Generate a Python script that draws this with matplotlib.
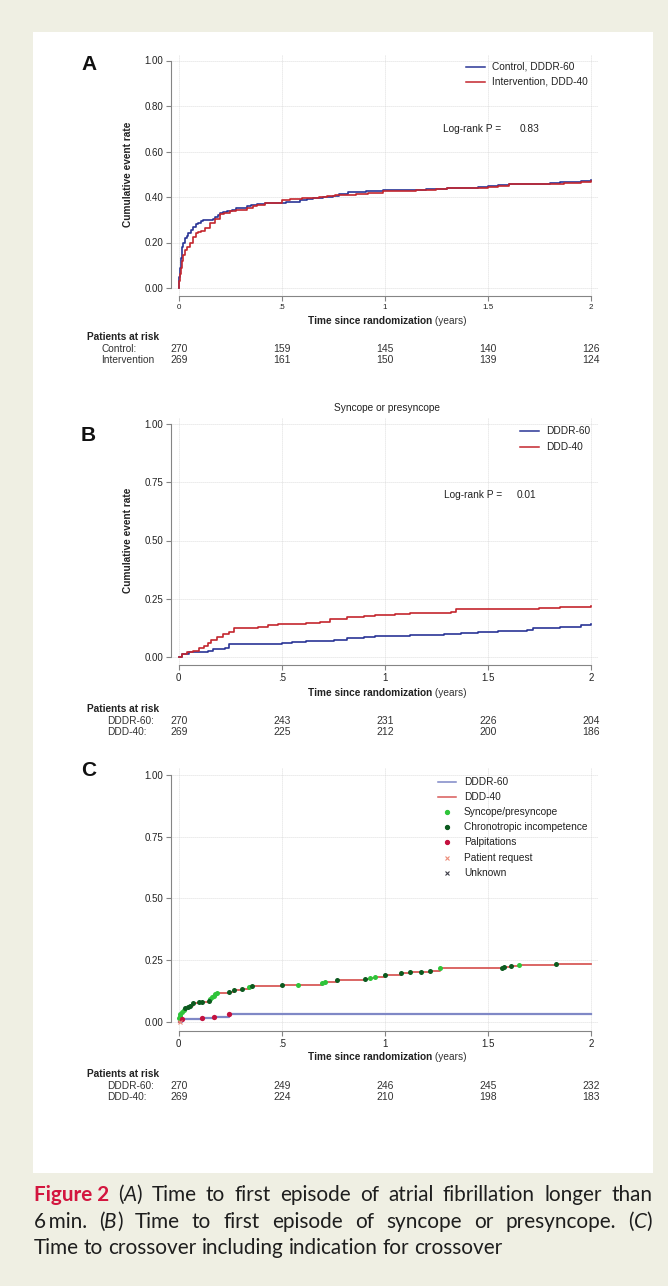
import numpy as np
import matplotlib
matplotlib.use("Agg")
import matplotlib.pyplot as plt
from matplotlib.lines import Line2D
from matplotlib.patches import Rectangle
from matplotlib.transforms import blended_transform_factory

plt.rcParams['font.family'] = ['Liberation Sans', 'DejaVu Sans']

W, H, DPI = 668, 1286, 100

# ---------------- data ----------------
x_ticks = [0, 0.5, 1, 1.5, 2]
x_ticklabels = ["0", ".5", "1", "1.5", "2"]

# A: time to first AF episode > 6 min
a_yticks = [0, 0.2, 0.4, 0.6, 0.8, 1.0]
a_yticklabels = ["0.00", "0.20", "0.40", "0.60", "0.80", "1.00"]
a_ctrl_t = [0, 0.003, 0.006, 0.01, 0.015, 0.022, 0.031, 0.04, 0.047, 0.058, 0.071, 0.083, 0.095,
            0.11, 0.12, 0.14, 0.152, 0.165, 0.176, 0.19, 0.2, 0.215, 0.233, 0.26, 0.28, 0.3, 0.33,
            0.35, 0.38, 0.42, 0.46, 0.52, 0.56, 0.59, 0.62, 0.65, 0.7, 0.75, 0.78, 0.82, 0.87, 0.91,
            0.95, 0.99, 1.05, 1.1, 1.2, 1.3, 1.45, 1.5, 1.55, 1.6, 1.7, 1.8, 1.85, 1.95, 2.0]
a_ctrl_y = [0, 0.05, 0.09, 0.13, 0.18, 0.2, 0.22, 0.23, 0.24, 0.255, 0.27, 0.28, 0.285,
            0.295, 0.297, 0.3, 0.3, 0.305, 0.31, 0.32, 0.33, 0.335, 0.34, 0.345, 0.35, 0.35, 0.36,
            0.365, 0.37, 0.372, 0.375, 0.378, 0.38, 0.385, 0.39, 0.395, 0.4, 0.405, 0.415, 0.42, 0.422, 0.425,
            0.427, 0.43, 0.43, 0.432, 0.435, 0.44, 0.442, 0.447, 0.452, 0.455, 0.457, 0.46, 0.468, 0.47, 0.473]
a_int_t = [0, 0.003, 0.006, 0.01, 0.015, 0.022, 0.031, 0.04, 0.055, 0.071, 0.085, 0.095, 0.11,
           0.13, 0.15, 0.175, 0.2, 0.22, 0.25, 0.28, 0.31, 0.33, 0.36, 0.38, 0.42, 0.46, 0.5, 0.54,
           0.6, 0.68, 0.72, 0.76, 0.8, 0.86, 0.92, 0.99, 1.05, 1.15, 1.25, 1.3, 1.45, 1.5, 1.55, 1.6,
           1.8, 1.87, 1.95, 2.0]
a_int_y = [0, 0.03, 0.06, 0.09, 0.12, 0.145, 0.165, 0.18, 0.2, 0.225, 0.24, 0.245, 0.25,
           0.265, 0.285, 0.305, 0.325, 0.33, 0.34, 0.345, 0.345, 0.35, 0.36, 0.365, 0.372, 0.375, 0.385, 0.39,
           0.395, 0.4, 0.405, 0.408, 0.41, 0.413, 0.418, 0.425, 0.428, 0.43, 0.435, 0.438, 0.44, 0.445, 0.45, 0.455,
           0.458, 0.463, 0.468, 0.472]
a_legend = ["Control, DDDR-60", "Intervention, DDD-40"]
a_rows = ["Control:", "Intervention"]
a_risk_ctrl = [270, 159, 145, 140, 126]
a_risk_int = [269, 161, 150, 139, 124]
a_p = "0.83"

# B: syncope or presyncope
bc_yticks = [0, 0.25, 0.5, 0.75, 1.0]
bc_yticklabels = ["0.00", "0.25", "0.50", "0.75", "1.00"]
b_title = "Syncope or presyncope"
b_dddr_t = [0, 0.017, 0.05, 0.117, 0.142, 0.167, 0.225, 0.242, 0.5, 0.551, 0.618, 0.751, 0.818,
            0.9, 0.952, 1.05, 1.12, 1.285, 1.37, 1.45, 1.55, 1.69, 1.72, 1.85, 1.95, 2.0]
b_dddr_y = [0, 0.011, 0.02, 0.022, 0.026, 0.034, 0.039, 0.053, 0.057, 0.062, 0.069, 0.072, 0.079,
            0.083, 0.089, 0.09, 0.093, 0.096, 0.1, 0.105, 0.112, 0.115, 0.122, 0.129, 0.136, 0.14]
b_ddd_t = [0, 0.017, 0.042, 0.067, 0.1, 0.125, 0.142, 0.159, 0.184, 0.217, 0.242, 0.267, 0.317,
           0.384, 0.434, 0.484, 0.618, 0.684, 0.735, 0.818, 0.9, 0.952, 1.05, 1.12, 1.32, 1.344,
           1.45, 1.75, 1.85, 2.0]
b_ddd_y = [0, 0.011, 0.02, 0.026, 0.036, 0.047, 0.057, 0.07, 0.083, 0.097, 0.108, 0.122, 0.125,
           0.129, 0.136, 0.14, 0.143, 0.15, 0.163, 0.169, 0.175, 0.179, 0.182, 0.19, 0.194, 0.204,
           0.207, 0.209, 0.212, 0.218]
bc_legend = ["DDDR-60", "DDD-40"]
bc_rows = ["DDDR-60:", "DDD-40:"]
b_risk_dddr = [270, 243, 231, 226, 204]
b_risk_ddd = [269, 225, 212, 200, 186]
b_p = "0.01"

# C: time to crossover with indication
c_dddr_t = [0, 0.016, 0.113, 0.173, 0.245, 2.0]
c_dddr_y = [0, 0.011, 0.016, 0.02, 0.03, 0.03]
c_ddd_t = [0, 0.002, 0.004, 0.008, 0.016, 0.024, 0.032, 0.045, 0.056, 0.069, 0.097, 0.113, 0.145,
           0.153, 0.161, 0.169, 0.177, 0.185, 0.242, 0.266, 0.306, 0.339, 0.355, 0.5, 0.58, 0.694,
           0.71, 0.766, 0.903, 0.927, 0.952, 1.0, 1.077, 1.12, 1.177, 1.217, 1.266, 1.57, 1.58,
           1.61, 1.65, 1.83, 2.0]
c_ddd_y = [0, 0.014, 0.023, 0.031, 0.04, 0.047, 0.054, 0.061, 0.065, 0.074, 0.078, 0.081, 0.084,
           0.09, 0.099, 0.105, 0.111, 0.115, 0.122, 0.127, 0.132, 0.139, 0.143, 0.147, 0.15, 0.158,
           0.162, 0.169, 0.173, 0.178, 0.182, 0.189, 0.196, 0.2, 0.203, 0.207, 0.216, 0.218, 0.223,
           0.226, 0.23, 0.234, 0.234]
c_syncope_t = [0.002, 0.004, 0.008, 0.016, 0.024, 0.153, 0.161, 0.169, 0.177, 0.185, 0.339,
               0.58, 0.694, 0.71, 0.927, 0.952, 1.266, 1.65]
c_chrono_t = [0.032, 0.045, 0.056, 0.069, 0.097, 0.113, 0.145, 0.242, 0.266, 0.306, 0.355, 0.5,
              0.766, 0.903, 1.0, 1.077, 1.12, 1.177, 1.217, 1.57, 1.58, 1.61, 1.83]
c_palp_t = [0.016, 0.113, 0.173, 0.245]
c_request_t = [0.006]
c_unknown_t = []
c_legend = ["DDDR-60", "DDD-40", "Syncope/presyncope", "Chronotropic incompetence",
            "Palpitations", "Patient request", "Unknown"]
c_risk_dddr = [270, 249, 246, 245, 232]
c_risk_ddd = [269, 224, 210, 198, 183]

cap_lines = [
    ["Figure 2", "(A)", "Time", "to", "first", "episode", "of", "atrial", "fibrillation", "longer", "than"],
    ["6\u2009min.", "(B)", "Time", "to", "first", "episode", "of", "syncope", "or", "presyncope.", "(C)"],
    ["Time", "to", "crossover", "including", "indication", "for", "crossover"],
]

# ---------------- style ----------------
BEIGE = "#efefe3"
AXC = "#858585"
GRID = "#d2d2d2"
TXT = "#222222"
BLUE = "#2a3596"
RED = "#c4262e"
BLUE_C = "#7f88c6"
RED_C = "#d85a58"
GREEN = "#2fc43a"
DKGREEN = "#0c5a1f"
CRIMSON = "#c4113f"
SALMON = "#ec8c78"
DARK = "#3c3c46"
FS = 7.3


def fx(px):
    return px / W


def fy(py):
    return 1 - py / H


fig = plt.figure(figsize=(W / DPI, H / DPI), dpi=DPI)
fig.patch.set_facecolor(BEIGE)
fig.add_artist(Rectangle((fx(33), fy(1173)), fx(653) - fx(33), (1173 - 32) / H,
                         transform=fig.transFigure, facecolor="white", edgecolor="none", zorder=-5))

X0, X2 = 178.7, 591.0   # pixel columns of x=0 and x=2


def make_ax(y0, y1, spine_px, yticks, ylabels, xt_size):
    xs = (X2 - X0) / 2
    ys = y0 - y1
    xlo, xhi = -(X0 - 170.7) / xs, 2 + (598 - X2) / xs
    ylo, yhi = -(spine_px - y0) / ys, 1 + 7 / ys
    left, right = X0 + xlo * xs, X0 + xhi * xs
    top = y0 - yhi * ys
    ax = fig.add_axes([fx(left), fy(spine_px), (right - left) / W, (spine_px - top) / H])
    ax.patch.set_alpha(0)
    ax.set_xlim(xlo, xhi)
    ax.set_ylim(ylo, yhi)
    for s in ["top", "right"]:
        ax.spines[s].set_visible(False)
    for s in ["left", "bottom"]:
        ax.spines[s].set_color(AXC)
        ax.spines[s].set_linewidth(0.8)
    ax.spines["left"].set_bounds(0, 1)
    ax.spines["bottom"].set_bounds(0, 2)
    ax.set_xticks(x_ticks, x_ticklabels)
    ax.set_yticks(yticks, ylabels)
    ax.tick_params(axis="both", colors=AXC, labelcolor=TXT, length=3.5, width=0.8)
    ax.tick_params(axis="y", labelsize=7, pad=1.7)
    ax.tick_params(axis="x", labelsize=xt_size, pad=2.2)
    ax.grid(True, color=GRID, linestyle=(0, (1, 1.4)), linewidth=0.6)
    ax.set_axisbelow(True)
    return ax


def xlabel(y):
    r = fig.canvas.get_renderer()
    tb = fig.text(0, fy(y), "Time since randomization", fontsize=FS, fontweight="bold",
                  va="center", color=TXT)
    tr = fig.text(0, fy(y), " (years)", fontsize=FS, va="center", color="#333333")
    wb = tb.get_window_extent(r).width
    wr = tr.get_window_extent(r).width
    x0 = 387 - (wb + wr) / 2
    tb.set_x(fx(x0))
    tr.set_x(fx(x0 + wb))


def risk_table(ax, y_head, row_x, rows, y_rows, counts):
    fig.text(fx(87), fy(y_head), "Patients at risk", fontsize=FS, fontweight="bold",
             va="center", color=TXT)
    tr = blended_transform_factory(ax.transData, fig.transFigure)
    for name, yr, cnt in zip(rows, y_rows, counts):
        fig.text(fx(row_x), fy(yr), name, fontsize=FS, va="center", color="#333333")
        for xv, n in zip(x_ticks, cnt):
            ax.text(xv, fy(yr), str(n), transform=tr, fontsize=7.5, ha="center", va="center",
                    color="#333333", clip_on=False)


def legend_rows(x0, x1, xt, ys, labels, styles):
    for y, lab, st in zip(ys, labels, styles):
        if st[0] == "line":
            fig.add_artist(Line2D([fx(x0), fx(x1)], [fy(y), fy(y)], color=st[1], lw=1.1,
                                  transform=fig.transFigure))
        else:
            fig.add_artist(Line2D([fx((x0 + x1) / 2)], [fy(y)], color=st[1], marker=st[0],
                                  ms=st[2], mew=0.8, linestyle="none", transform=fig.transFigure))
        fig.text(fx(xt), fy(y), lab, fontsize=FS, va="center", color=TXT)


def panel_letter(y, s):
    fig.text(fx(81), fy(y), s, fontsize=15, fontweight="bold", va="center", color="#111111")


def ylabel(ax):
    ax.text(fx(128), 0.5, "Cumulative event rate", fontsize=FS, fontweight="bold",
            rotation=90, ha="center", va="center", color=TXT,
            transform=blended_transform_factory(fig.transFigure, ax.transData))


def step_at(t, y, tq):
    t = np.asarray(t)
    y = np.asarray(y)
    idx = np.searchsorted(t, tq, side="right") - 1
    return y[np.clip(idx, 0, len(y) - 1)]


# ---------------- panel A ----------------
axA = make_ax(288.0, 60.5, 296.0, a_yticks, a_yticklabels, 5.8)
axA.plot(a_ctrl_t, a_ctrl_y, drawstyle="steps-post", color=BLUE, lw=1.2)
axA.plot(a_int_t, a_int_y, drawstyle="steps-post", color=RED, lw=1.2)
ylabel(axA)
panel_letter(64, "A")
legend_rows(466, 485, 491.7, [66.7, 81.7], a_legend, [("line", BLUE), ("line", RED)])
fig.text(fx(442.7), fy(129), "Log-rank P =", fontsize=FS, va="center", color=TXT)
fig.text(fx(519.3), fy(129), a_p, fontsize=FS, va="center", color=TXT)
xlabel(320.7)
risk_table(axA, 337, 101, a_rows, [349, 360], [a_risk_ctrl, a_risk_int])

# ---------------- panel B ----------------
axB = make_ax(656.7, 424.3, 665.0, bc_yticks, bc_yticklabels, 7)
axB.plot(b_dddr_t, b_dddr_y, drawstyle="steps-post", color=BLUE, lw=1.2)
axB.plot(b_ddd_t, b_ddd_y, drawstyle="steps-post", color=RED, lw=1.2)
ylabel(axB)
panel_letter(435, "B")
fig.text(fx(386.5), fy(407.7), b_title, fontsize=FS, ha="center", va="center", color=TXT)
legend_rows(520, 539, 546.4, [431, 446.7], bc_legend, [("line", BLUE), ("line", RED)])
fig.text(fx(444.3), fy(495), "Log-rank P =", fontsize=FS, va="center", color=TXT)
fig.text(fx(517), fy(495), b_p, fontsize=FS, va="center", color=TXT)
xlabel(693.3)
risk_table(axB, 709.3, 107, bc_rows, [720.7, 732.3], [b_risk_dddr, b_risk_ddd])

# ---------------- panel C ----------------
axC = make_ax(1021.7, 775.0, 1030.7, bc_yticks, bc_yticklabels, 7)
axC.plot(c_dddr_t, c_dddr_y, drawstyle="steps-post", color=BLUE_C, lw=1.6, zorder=2)
axC.plot(c_ddd_t, c_ddd_y, drawstyle="steps-post", color=RED_C, lw=1.3, zorder=3)
axC.plot(c_syncope_t, step_at(c_ddd_t, c_ddd_y, c_syncope_t), "o", color=GREEN, ms=3.6,
         mew=0, zorder=4, clip_on=False)
axC.plot(c_chrono_t, step_at(c_ddd_t, c_ddd_y, c_chrono_t), "o", color=DKGREEN, ms=3.6,
         mew=0, zorder=5, clip_on=False)
axC.plot(c_palp_t, step_at(c_dddr_t, c_dddr_y, c_palp_t), "o", color=CRIMSON, ms=3.8,
         mew=0, zorder=5, clip_on=False)
axC.plot(c_request_t, step_at(c_dddr_t, c_dddr_y, c_request_t), "x", color=SALMON, ms=3,
         mew=0.8, zorder=5, clip_on=False)
if c_unknown_t:
    axC.plot(c_unknown_t, step_at(c_ddd_t, c_ddd_y, c_unknown_t), "x", color=DARK, ms=3, mew=0.8)
panel_letter(770, "C")
legend_rows(438, 456, 464, [782.3, 797.3, 812.3, 827.3, 842.3, 857.7, 873.3], c_legend,
            [("line", BLUE_C), ("line", RED_C), ("o", GREEN, 3), ("o", DKGREEN, 3),
             ("o", CRIMSON, 3), ("x", SALMON, 3), ("x", DARK, 3)])
xlabel(1057.3)
risk_table(axC, 1074.3, 107, bc_rows, [1086, 1097.3], [c_risk_dddr, c_risk_ddd])

# ---------------- caption ----------------
r = fig.canvas.get_renderer()
CAP_FAMILY = ["Lato", "DejaVu Sans"]


def pieces(word):
    if word == "Figure 2":
        return [(word, dict(fontweight="bold", color="#d3163f"))]
    if len(word) == 3 and word[0] == "(" and word[2] == ")":
        return [("(", {}), (word[1], dict(style="italic")), (")", {})]
    return [(word, {})]


def build(size):
    objs = []
    for line in cap_lines:
        lw = []
        for word in line:
            ws = []
            for txt, kw in pieces(word):
                kw2 = dict(color="#1e1e1e")
                kw2.update(kw)
                t = fig.text(0, 0, txt, fontsize=size, family=CAP_FAMILY, va="baseline", **kw2)
                ws.append(t)
            lw.append(ws)
        objs.append(lw)
    return objs


def width(t):
    return t.get_window_extent(r).width


probe = fig.text(0, 0, "x x", fontsize=10, family=CAP_FAMILY)
probe2 = fig.text(0, 0, "xx", fontsize=10, family=CAP_FAMILY)
space10 = width(probe) - width(probe2)
probe.remove()
probe2.remove()

objs = build(10)
l3 = sum(width(p) for w in objs[2] for p in w) + space10 * (len(objs[2]) - 1)
cap_size = 10 * 472 / l3
for line in objs:
    for w in line:
        for p in w:
            p.remove()
objs = build(cap_size)
space = space10 * cap_size / 10

cap_left, cap_right = 33.5, 652
cap_base = [1201, 1227.5, 1254]
for i, line in enumerate(objs):
    wws = [sum(width(p) for p in w) for w in line]
    if i < 2:
        gap = (cap_right - cap_left - sum(wws)) / (len(line) - 1)
    else:
        gap = space
    x = cap_left
    for w, ww in zip(line, wws):
        xp = x
        for p in w:
            p.set_position((fx(xp), fy(cap_base[i])))
            xp += width(p)
        x += ww + gap

fig.savefig("out.png", dpi=DPI, facecolor=fig.get_facecolor())
